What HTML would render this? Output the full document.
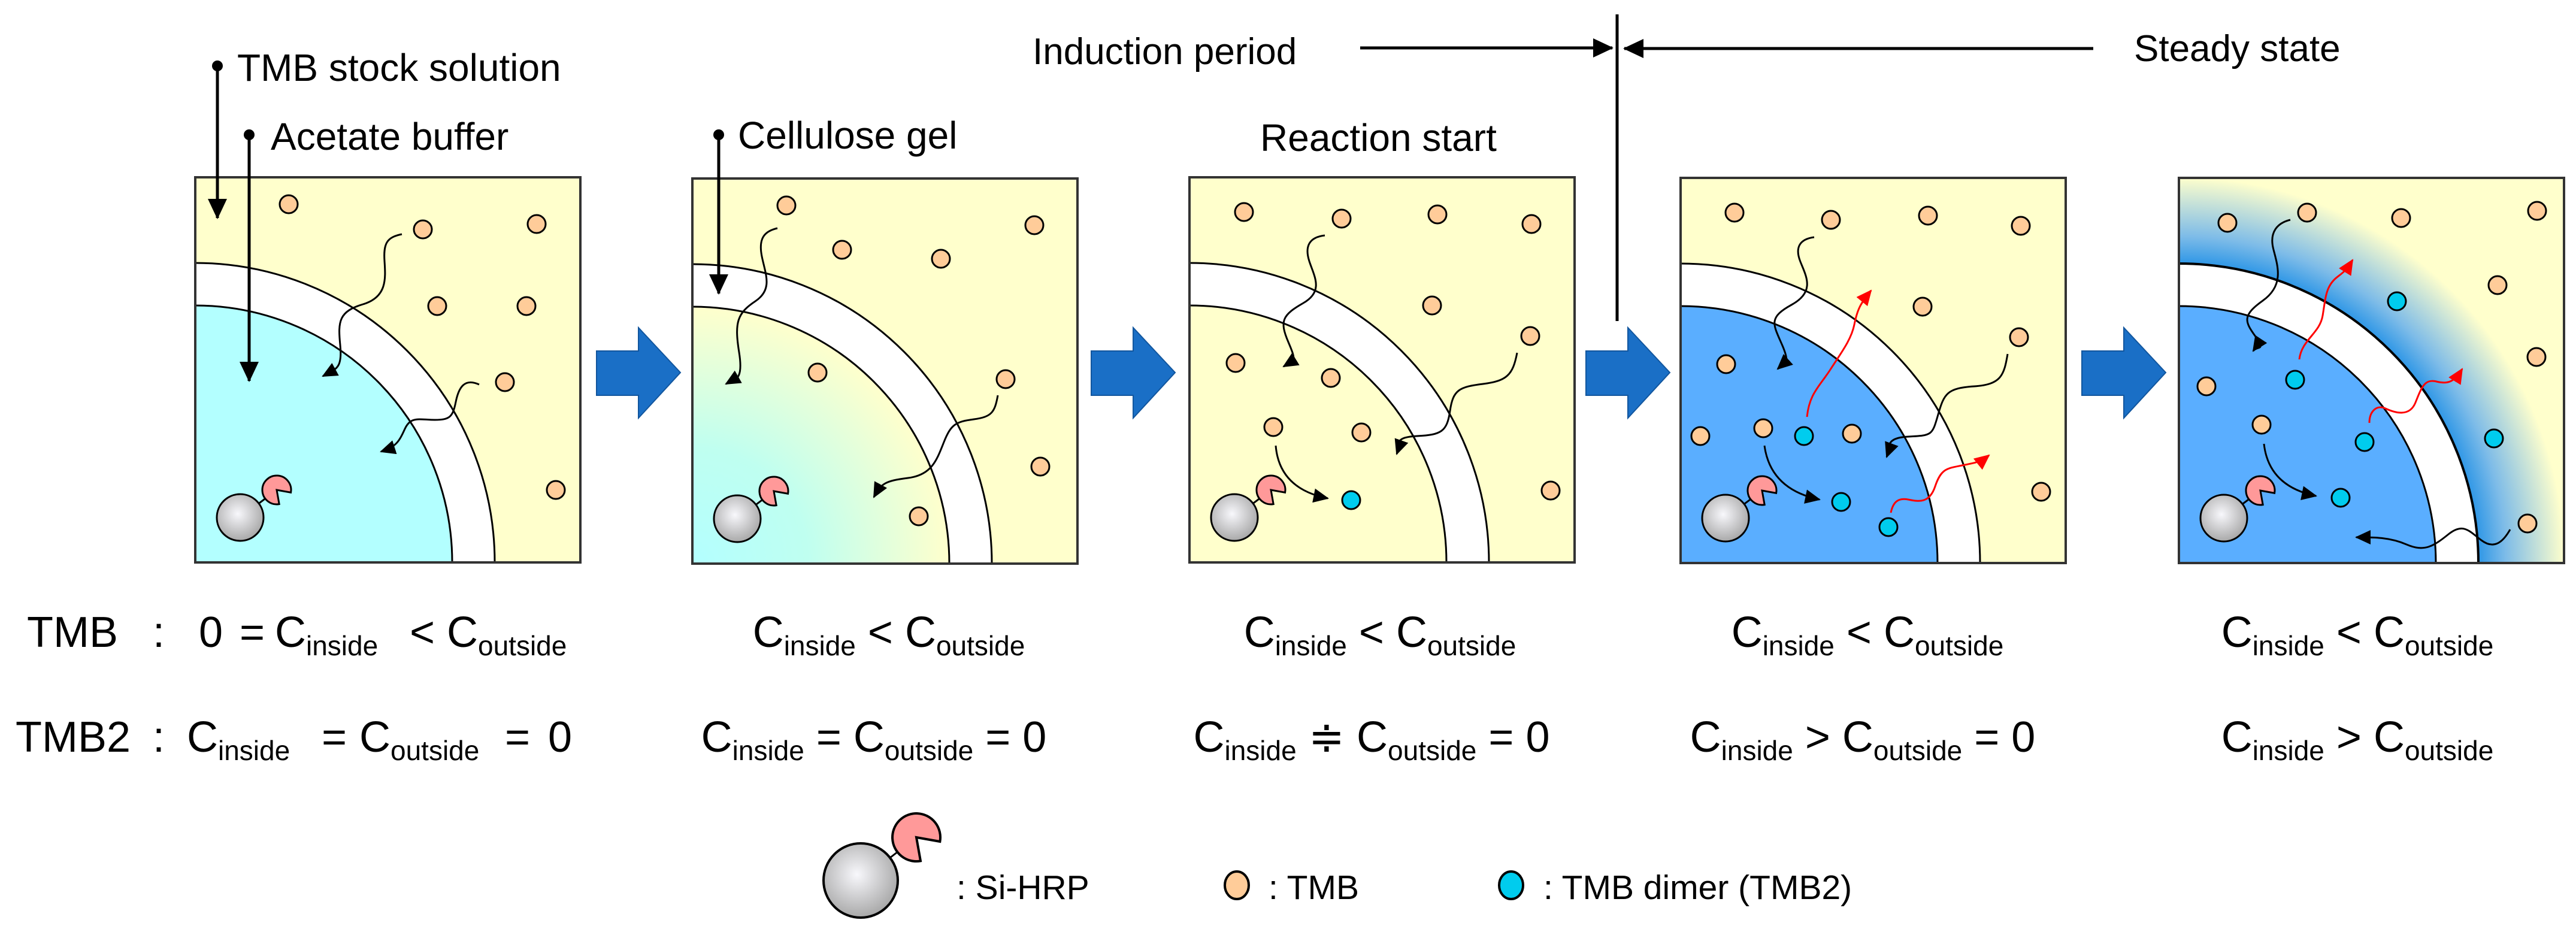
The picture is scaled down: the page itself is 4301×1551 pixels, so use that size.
<!DOCTYPE html>
<html><head><meta charset="utf-8"><style>
html,body{margin:0;padding:0;background:#fff;width:4301px;height:1551px;overflow:hidden;}
svg{display:block;}
text{font-family:"Liberation Sans",sans-serif;fill:#000;}
</style></head><body>
<svg width="4301" height="1551" viewBox="0 0 4301 1551" xmlns="http://www.w3.org/2000/svg">
<defs>
<radialGradient id="sph" cx="0.45" cy="0.42" r="0.6">
<stop offset="0" stop-color="#F8F8FC"/><stop offset="1" stop-color="#A6A6A6"/></radialGradient>
<radialGradient id="gel2" cx="0" cy="643" r="430" gradientUnits="userSpaceOnUse">
<stop offset="0" stop-color="#B3FFFF"/><stop offset="0.45" stop-color="#BFFFF0"/><stop offset="1" stop-color="#FFFFCC"/></radialGradient>
<radialGradient id="glow" cx="0" cy="643" r="700" gradientUnits="userSpaceOnUse">
<stop offset="0.70" stop-color="#1E8FE6"/><stop offset="0.78" stop-color="#7EBCE8"/><stop offset="0.92" stop-color="#FFFFCC"/></radialGradient>
<marker id="ab" markerWidth="28" markerHeight="24" refX="24" refY="12" orient="auto" markerUnits="userSpaceOnUse"><path d="M0,0 L26,12 L0,24 Z" fill="#000"/></marker>
<marker id="ar" markerWidth="28" markerHeight="24" refX="24" refY="12" orient="auto" markerUnits="userSpaceOnUse"><path d="M0,0 L26,12 L0,24 Z" fill="#F00"/></marker>
<marker id="abig" markerWidth="34" markerHeight="32" refX="32" refY="16" orient="auto" markerUnits="userSpaceOnUse"><path d="M0,0 L34,16 L0,32 Z" fill="#000"/></marker>
<clipPath id="pc"><rect x="0" y="0" width="643" height="643"/></clipPath>
<g id="tmb"><circle r="15" fill="#FFCC99" stroke="#000" stroke-width="3"/></g>
<g id="dim"><circle r="15" fill="#00CCEE" stroke="#000" stroke-width="3"/></g>
<g id="enz">
<line x1="75" y1="568" x2="136" y2="522" stroke="#000" stroke-width="3"/>
<circle cx="75" cy="568" r="39" fill="url(#sph)" stroke="#000" stroke-width="3"/>
<path d="M136,522 L159.6,526.2 A24,24 0 1,0 140.2,545.6 Z" fill="#FF9999" stroke="#000" stroke-width="3"/>
</g>
<polygon id="barrow" points="0,-36 70,-36 70,-75 140,0 70,76 70,38 0,38" fill="#1A6FC6" stroke="#12569E" stroke-width="2"/>
</defs>

<text x="396" y="135" font-size="64">TMB stock solution</text>
<text x="452" y="250" font-size="64">Acetate buffer</text>
<text x="1232" y="248" font-size="64">Cellulose gel</text>
<text x="2104" y="252" font-size="64">Reaction start</text>
<text x="1724" y="107" font-size="62">Induction period</text>
<text x="3563" y="102" font-size="62">Steady state</text>
<line x1="2271" y1="80" x2="2692" y2="80" stroke="#000" stroke-width="5" marker-end="url(#abig)"/>
<line x1="3495" y1="81" x2="2712" y2="81" stroke="#000" stroke-width="5" marker-end="url(#abig)"/>
<line x1="2700" y1="24" x2="2700" y2="536" stroke="#000" stroke-width="5"/>

<g transform="translate(326,296)">
<g clip-path="url(#pc)">
<rect width="643" height="643" fill="#FFFFCC"/>
<circle cx="0" cy="643" r="500" fill="#fff" stroke="#000" stroke-width="3"/>
<circle cx="0" cy="643" r="429" fill="#B3FFFF" stroke="#000" stroke-width="3"/>
</g>
<rect width="643" height="643" fill="none" stroke="#333" stroke-width="4"/>
<use href="#tmb" x="156" y="45"/><use href="#tmb" x="380" y="87"/><use href="#tmb" x="570" y="78"/>
<use href="#tmb" x="404" y="215"/><use href="#tmb" x="553" y="215"/><use href="#tmb" x="517" y="342"/><use href="#tmb" x="602" y="522"/>
<use href="#enz"/>
<path d="M345,95 C320,100 314,110 316,140 S320,200 280,212 S238,240 242,280 S235,320 213,332" fill="none" stroke="#000" stroke-width="3" marker-end="url(#ab)"/>
<path d="M474,346 C450,335 440,350 435,375 S425,405 400,405 S360,398 350,420 S335,450 310,458" fill="none" stroke="#000" stroke-width="3" marker-end="url(#ab)"/>
</g>
<circle cx="363" cy="110" r="9" fill="#000"/>
<line x1="363" y1="110" x2="363" y2="364" stroke="#000" stroke-width="5" marker-end="url(#abig)"/>
<circle cx="416" cy="225" r="9" fill="#000"/>
<line x1="416" y1="225" x2="416" y2="636" stroke="#000" stroke-width="5" marker-end="url(#abig)"/>

<g transform="translate(1156,298)">
<g clip-path="url(#pc)">
<rect width="643" height="643" fill="#FFFFCC"/>
<circle cx="0" cy="643" r="500" fill="#fff" stroke="#000" stroke-width="3"/>
<circle cx="0" cy="643" r="429" fill="url(#gel2)" stroke="#000" stroke-width="3"/>
</g>
<rect width="643" height="643" fill="none" stroke="#333" stroke-width="4"/>
<use href="#tmb" x="157" y="45"/><use href="#tmb" x="250" y="119"/><use href="#tmb" x="415" y="134"/><use href="#tmb" x="571" y="78"/>
<use href="#tmb" x="209" y="324"/><use href="#tmb" x="523" y="335"/><use href="#tmb" x="581" y="481"/><use href="#tmb" x="378" y="564"/>
<use href="#enz"/>
<path d="M142,83 C120,88 110,100 116,130 S135,185 105,205 S70,240 78,290 S70,335 56,343" fill="none" stroke="#000" stroke-width="3" marker-end="url(#ab)"/>
<path d="M510,362 C505,390 500,398 470,402 S432,410 420,440 S400,495 360,500 S315,510 303,532" fill="none" stroke="#000" stroke-width="3" marker-end="url(#ab)"/>
</g>
<circle cx="1200" cy="225" r="9" fill="#000"/>
<line x1="1200" y1="225" x2="1200" y2="490" stroke="#000" stroke-width="5" marker-end="url(#abig)"/>

<g transform="translate(1986,296)">
<g clip-path="url(#pc)">
<rect width="643" height="643" fill="#FFFFCC"/>
<circle cx="0" cy="643" r="500" fill="#fff" stroke="#000" stroke-width="3"/>
<circle cx="0" cy="643" r="429" fill="#FFFFCC" stroke="#000" stroke-width="3"/>
</g>
<rect width="643" height="643" fill="none" stroke="#333" stroke-width="4"/>
<use href="#tmb" x="91" y="58"/><use href="#tmb" x="254" y="69"/><use href="#tmb" x="414" y="62"/><use href="#tmb" x="571" y="78"/>
<use href="#tmb" x="405" y="214"/><use href="#tmb" x="569" y="265"/><use href="#tmb" x="77" y="310"/><use href="#tmb" x="236" y="335"/>
<use href="#tmb" x="140" y="417"/><use href="#tmb" x="287" y="426"/><use href="#tmb" x="603" y="523"/>
<use href="#dim" x="270" y="539"/>
<use href="#enz"/>
<path d="M226,97 C200,100 192,115 200,140 S225,190 190,210 S150,240 165,275 S175,305 157,316" fill="none" stroke="#000" stroke-width="3" marker-end="url(#ab)"/>
<path d="M547,293 C540,330 530,340 490,345 S440,355 435,390 S420,430 380,432 S352,445 346,462" fill="none" stroke="#000" stroke-width="3" marker-end="url(#ab)"/>
<path d="M144,448 Q150,520 231,536" fill="none" stroke="#000" stroke-width="3" marker-end="url(#ab)"/>
</g>

<g transform="translate(2806,297)">
<g clip-path="url(#pc)">
<rect width="643" height="643" fill="#FFFFCC"/>
<circle cx="0" cy="643" r="500" fill="#fff" stroke="#000" stroke-width="3"/>
<circle cx="0" cy="643" r="429" fill="#5AAEFF" stroke="#000" stroke-width="3"/>
</g>
<rect width="643" height="643" fill="none" stroke="#333" stroke-width="4"/>
<use href="#tmb" x="90" y="58"/><use href="#tmb" x="251" y="70"/><use href="#tmb" x="413" y="63"/><use href="#tmb" x="568" y="80"/>
<use href="#tmb" x="404" y="215"/><use href="#tmb" x="565" y="266"/><use href="#tmb" x="76" y="311"/><use href="#tmb" x="33" y="431"/>
<use href="#tmb" x="138" y="418"/><use href="#tmb" x="286" y="427"/><use href="#tmb" x="602" y="524"/>
<use href="#dim" x="206" y="431"/><use href="#dim" x="268" y="541"/><use href="#dim" x="347" y="583"/>
<use href="#enz"/>
<path d="M223,99 C200,102 190,115 200,140 S225,190 185,212 S155,245 170,280 S172,310 162,319" fill="none" stroke="#000" stroke-width="3" marker-end="url(#ab)"/>
<path d="M546,294 C540,330 535,345 490,348 S440,360 430,395 S420,430 380,432 S350,450 344,466" fill="none" stroke="#000" stroke-width="3" marker-end="url(#ab)"/>
<path d="M140,447 Q150,520 232,537" fill="none" stroke="#000" stroke-width="3" marker-end="url(#ab)"/>
<path d="M211,399 C215,360 232,348 250,320 S285,270 290,245 S300,210 318,188" fill="none" stroke="#F00" stroke-width="3" marker-end="url(#ar)"/>
<path d="M351,559 C355,540 364,534 380,537 S415,545 425,515 S445,485 470,480 S500,475 515,463" fill="none" stroke="#F00" stroke-width="3" marker-end="url(#ar)"/>
</g>

<g transform="translate(3638,297)">
<g clip-path="url(#pc)">
<rect width="643" height="643" fill="#FFFFCC"/>
<circle cx="0" cy="643" r="700" fill="url(#glow)"/>
<circle cx="0" cy="643" r="500" fill="#fff" stroke="#000" stroke-width="4"/>
<circle cx="0" cy="643" r="429" fill="#5AAEFF" stroke="#000" stroke-width="3"/>
</g>
<rect width="643" height="643" fill="none" stroke="#333" stroke-width="4"/>
<use href="#tmb" x="81" y="75"/><use href="#tmb" x="214" y="58"/><use href="#tmb" x="371" y="67"/><use href="#tmb" x="598" y="55"/>
<use href="#tmb" x="532" y="179"/><use href="#tmb" x="597" y="299"/><use href="#tmb" x="46" y="348"/><use href="#tmb" x="138" y="412"/><use href="#tmb" x="582" y="577"/>
<use href="#dim" x="364" y="206"/><use href="#dim" x="194" y="337"/><use href="#dim" x="310" y="441"/><use href="#dim" x="526" y="435"/><use href="#dim" x="270" y="534"/>
<use href="#enz"/>
<path d="M186,70 C165,75 150,90 158,120 S175,180 140,205 S110,240 128,265 S130,280 124,289" fill="none" stroke="#000" stroke-width="3" marker-end="url(#ab)"/>
<path d="M553,587 C540,610 525,620 505,605 S475,575 450,595 S410,625 380,612 S320,600 296,600" fill="none" stroke="#000" stroke-width="3" marker-end="url(#ab)"/>
<path d="M142,444 Q150,515 229,531" fill="none" stroke="#000" stroke-width="3" marker-end="url(#ab)"/>
<path d="M201,303 C205,270 235,260 240,230 S245,180 265,165 S285,145 290,137" fill="none" stroke="#F00" stroke-width="3" marker-end="url(#ar)"/>
<path d="M318,409 C318,390 330,378 345,385 S385,400 395,375 S410,335 430,340 S460,340 473,319" fill="none" stroke="#F00" stroke-width="3" marker-end="url(#ar)"/>
</g>

<use href="#barrow" x="996" y="622"/>
<use href="#barrow" x="1822" y="622"/>
<use href="#barrow" x="2648" y="622"/>
<use href="#barrow" x="3476" y="622"/>

<g font-size="72">
<text x="45" y="1080">TMB</text>
<text x="255" y="1080">:</text>
<text x="332" y="1080">0</text>
<text x="400" y="1080">=</text>
<text x="459" y="1080">C<tspan font-size="46" dy="14">inside</tspan></text>
<text x="684" y="1080">&lt;</text>
<text x="746" y="1080">C<tspan font-size="46" dy="14">outside</tspan></text>

<text x="26" y="1255">TMB2</text>
<text x="255" y="1255">:</text>
<text x="312" y="1255">C<tspan font-size="46" dy="14">inside</tspan></text>
<text x="537" y="1255">=</text>
<text x="600" y="1255">C<tspan font-size="46" dy="14">outside</tspan></text>
<text x="843" y="1255">=</text>
<text x="915" y="1255">0</text>

<text x="1484" y="1080" text-anchor="middle">C<tspan font-size="46" dy="14">inside</tspan><tspan dy="-14"> &lt; C</tspan><tspan font-size="46" dy="14">outside</tspan></text>
<text x="1459" y="1255" text-anchor="middle">C<tspan font-size="46" dy="14">inside</tspan><tspan dy="-14"> = C</tspan><tspan font-size="46" dy="14">outside</tspan><tspan dy="-14"> = 0</tspan></text>

<text x="2304" y="1080" text-anchor="middle">C<tspan font-size="46" dy="14">inside</tspan><tspan dy="-14"> &lt; C</tspan><tspan font-size="46" dy="14">outside</tspan></text>
<text x="2290" y="1255" text-anchor="middle">C<tspan font-size="46" dy="14">inside</tspan><tspan dy="-14"> ≑ C</tspan><tspan font-size="46" dy="14">outside</tspan><tspan dy="-14"> = 0</tspan></text>

<text x="3118" y="1080" text-anchor="middle">C<tspan font-size="46" dy="14">inside</tspan><tspan dy="-14"> &lt; C</tspan><tspan font-size="46" dy="14">outside</tspan></text>
<text x="3110" y="1255" text-anchor="middle">C<tspan font-size="46" dy="14">inside</tspan><tspan dy="-14"> &gt; C</tspan><tspan font-size="46" dy="14">outside</tspan><tspan dy="-14"> = 0</tspan></text>

<text x="3936" y="1080" text-anchor="middle">C<tspan font-size="46" dy="14">inside</tspan><tspan dy="-14"> &lt; C</tspan><tspan font-size="46" dy="14">outside</tspan></text>
<text x="3936" y="1255" text-anchor="middle">C<tspan font-size="46" dy="14">inside</tspan><tspan dy="-14"> &gt; C</tspan><tspan font-size="46" dy="14">outside</tspan></text>
</g>

<line x1="1437" y1="1470" x2="1530" y2="1398" stroke="#000" stroke-width="3"/>
<circle cx="1437" cy="1470" r="62" fill="url(#sph)" stroke="#000" stroke-width="4"/>
<path d="M1530,1398 L1569.4,1405 A40,40 0 1,0 1537,1437.4 Z" fill="#FF9999" stroke="#000" stroke-width="4"/>
<text x="1597" y="1501" font-size="57">: Si-HRP</text>
<ellipse cx="2065" cy="1478" rx="20" ry="23" fill="#FFCC99" stroke="#000" stroke-width="4"/>
<text x="2118" y="1501" font-size="57">: TMB</text>
<ellipse cx="2523" cy="1478" rx="20" ry="23" fill="#00CCEE" stroke="#000" stroke-width="4"/>
<text x="2577" y="1501" font-size="57">: TMB dimer (TMB2)</text>
</svg>
</body></html>
